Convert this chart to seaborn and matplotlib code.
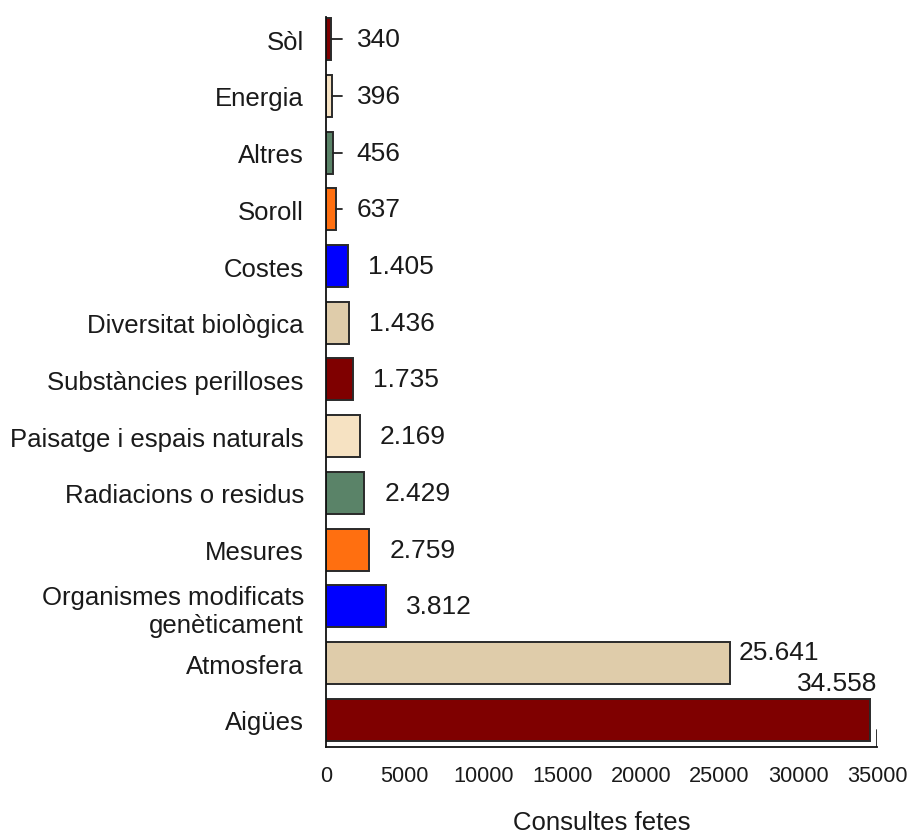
import matplotlib
matplotlib.use("Agg")
import matplotlib.pyplot as plt
import seaborn as sns
import pandas as pd

categories = [
    "Sòl", "Energia", "Altres", "Soroll", "Costes", "Diversitat biològica",
    "Substàncies perilloses", "Paisatge i espais naturals", "Radiacions o residus",
    "Mesures", "Organismes modificats\ngenèticament", "Atmosfera", "Aigües",
]
values = [340, 396, 456, 637, 1405, 1436, 1735, 2169, 2429, 2759, 3812, 25641, 34558]
colors = [
    "#7f0000", "#f6e2c2", "#5a8368", "#ff6f10", "#0000ff", "#dfccaa",
    "#7f0000", "#f6e2c2", "#5a8368", "#ff6f10", "#0000ff", "#dfccaa", "#7f0000",
]
x_ticks = [0, 5000, 10000, 15000, 20000, 25000, 30000, 35000]

sns.set_style("white")
plt.rcParams["font.family"] = ["Liberation Sans", "DejaVu Sans"]
plt.rcParams["text.color"] = "#1a1a1a"
plt.rcParams["xtick.color"] = "#1a1a1a"
plt.rcParams["ytick.color"] = "#1a1a1a"
plt.rcParams["axes.labelcolor"] = "#1a1a1a"

df = pd.DataFrame({"tema": categories, "consultes": values})

fig = plt.figure(figsize=(9.07, 8.37), dpi=100)
ax = fig.add_axes([0.3594, 0.1063, 0.6075, 0.8722])
sns.barplot(data=df, x="consultes", y="tema", hue="tema", palette=colors,
            orient="h", width=0.74, edgecolor="#2a2a2a", linewidth=1.4,
            saturation=1, legend=False, ax=ax)

ax.set_xlim(0, 35000)
ax.set_ylim(len(categories) - 1 + 0.48, -0.39)
ax.set_xticks(x_ticks)
ax.tick_params(axis="x", direction="in", length=9, width=1.3, color="#222222",
               labelsize=15.7, pad=13)
ax.tick_params(axis="y", length=0, labelsize=18.5, pad=16)
ax.axvline(35000, ymin=0, ymax=0.024, color="#222222", lw=1.3)
for side in ["top", "right"]:
    ax.spines[side].set_visible(False)
for side in ["left", "bottom"]:
    ax.spines[side].set_color("#111111")
    ax.spines[side].set_linewidth(1.3)
ax.set_xlabel("Consultes fetes", fontsize=18.5, labelpad=17)
ax.set_ylabel("")

for i, v in enumerate(values):
    txt = f"{v:,}".replace(",", ".")
    if v < 1000:
        ax.plot([v, 1000], [i, i], color="#222222", lw=1.3)
        ax.text(1950, i, txt, va="center", ha="left", fontsize=19)
    elif v > 30000:
        ax.text(35050, i - 0.65, txt, va="center", ha="right", fontsize=19)
    elif v > 20000:
        ax.text(v + 600, i - 0.2, txt, va="center", ha="left", fontsize=19)
    else:
        ax.text(v + 1270, i, txt, va="center", ha="left", fontsize=19)

plt.savefig("out.png", dpi=100)
